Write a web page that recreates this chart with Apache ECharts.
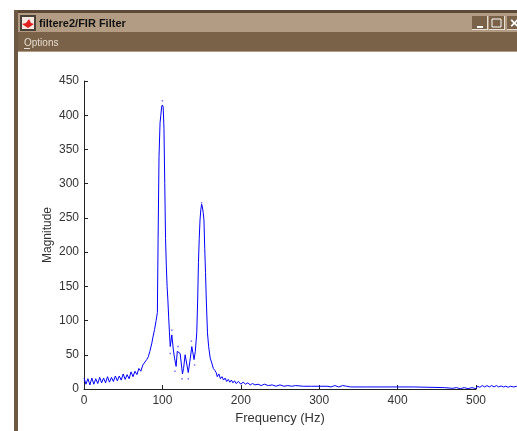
<!DOCTYPE html>
<html><head><meta charset="utf-8">
<style>html,body{margin:0;padding:0;background:#fff}#c{width:517px;height:431px}</style>
<script src="https://cdn.jsdelivr.net/npm/echarts@6/dist/echarts.min.js"></script>
</head><body><div id="c"></div>
<script>
const xTicks=[0,100,200,300,400,500];
const lowBand=[[0,16],[2.5,7],[5,15],[7.5,6],[10,16],[12.5,7],[15,15],[17.5,8],[20,17],[22.5,9],[25,16],[27.5,9],[30,18],[32.5,10],[35,17],[37.5,11],[40,19],[42.5,12],[45,19],[47.5,13],[50,22],[52.5,14],[55,21],[57.5,15],[60,25],[62.5,18],[65,26],[67.5,21],[70,30],[72.5,26],[75,35],[77.5,33],[80,43],[82,47],[84,55],[86.5,67],[88,76],[90,87],[92,100]];
const firstPeak=[[93.6,112],[94.5,218],[95.7,340],[97,389],[98,400],[99,412],[100,415],[101,412],[102,381],[103,300],[104,220],[105,180],[106,150],[107,130],[108,105],[109,82]];
const midBand=[[110,62],[112,79],[114,57],[115.5,45],[117.5,33],[119,55],[120.5,55],[122.6,52],[125.6,22],[127,30],[129,50],[131,52],[133,24],[135,40],[137.5,62],[139,60],[140.4,43],[142,55],[143.8,82]];
const secondPeak=[[145,130],[146,185],[147,220],[148,247],[149,262],[150,270],[151,266],[152,258],[153,247],[154,205],[155,170],[156,130],[157.5,82],[159,62]];
const upperBand=[[161,45],[163,38],[165,30],[167,27],[168.6,24],[170,18],[172,22],[174,15],[176,18],[178,13],[180,16],[182,11],[184,14],[186,10],[188,13],[190,9],[192,12],[194,8],[197,11],[200,7],[203,10],[206,7],[209,9],[212,6],[215,8],[218,6],[222,7],[226,5],[230,7],[235,5],[240,6],[245,4],[250,6],[255,4],[260,5],[265,4],[270,5],[280,4],[290,4]];
const tailBand=[[300,4],[310,4],[315,3],[320,5],[325,3],[330,5],[335,4],[340,3],[360,3],[380,3],[400,3],[420,3],[440,2.5],[460,2],[470,1],[475,2],[480,0.5],[485,2],[490,0.5],[495,2],[500,0.5],[502,4],[505,2.5],[508,5],[511,3],[514,5],[517,3],[520,5],[523,3],[526,5],[529,3],[532,4.5],[535,3],[538,4],[541,2.5],[544,4],[548,3],[552,4]];
const spectrum=[...lowBand,...firstPeak,...midBand,...secondPeak,...upperBand,...tailBand];
const stray=[[100,421],[150,272],[112,86],[110,52],[120,62],[125,15],[133,15],[137,70],[141,35],[116,26]];
const brown={title:'#b29c84',menu:'#7a6249',edge:'#5b4936',side:'#6d5843'};
const font='"Liberation Sans",Arial,sans-serif';
const rect=(x,y,w,h,fill,extra)=>Object.assign({type:'rect',shape:{x,y,width:w,height:h},style:{fill},silent:true},extra||{});
const button=(x)=>({type:'group',children:[rect(x,16,15,14,'#7a6249'),rect(x,29,15,1,'#e8dfd3'),rect(x+15,16,1,14,'#e8dfd3')]});
const chart=echarts.init(document.getElementById('c'),null,{renderer:'canvas'});
chart.setOption({
 animation:false,backgroundColor:'#fff',
 grid:[{left:84,right:41,top:81,bottom:42},{left:84,right:0,top:81,bottom:42}],
 xAxis:[{type:'value',gridIndex:0,min:0,max:500,interval:100,name:'Frequency (Hz)',nameLocation:'middle',nameGap:22,
  nameTextStyle:{fontFamily:font,fontSize:13,color:'#333'},
  axisLine:{onZero:false,lineStyle:{color:'#222',width:1}},axisTick:{inside:true,length:4,lineStyle:{color:'#222'}},
  axisLabel:{formatter:v=>xTicks.includes(v)?String(v):'',fontFamily:font,fontSize:12,color:'#333',margin:6,showMaxLabel:true,showMinLabel:true,hideOverlap:false},splitLine:{show:false}},
  {type:'value',gridIndex:1,min:0,max:552.3,show:false}],
 yAxis:[{type:'value',gridIndex:0,min:0,max:450,interval:50,name:'Magnitude',nameLocation:'middle',nameGap:30,nameMoveOverlap:false,
  nameTextStyle:{fontFamily:font,fontSize:12,color:'#333'},
  axisLine:{onZero:false,lineStyle:{color:'#222',width:1}},axisTick:{inside:true,length:4,lineStyle:{color:'#222'}},
  axisLabel:{fontFamily:font,fontSize:12,color:'#333',margin:5,showMaxLabel:true,showMinLabel:true,hideOverlap:false},splitLine:{show:false}},
  {type:'value',gridIndex:1,min:0,max:450,show:false}],
 series:[
  {type:'line',xAxisIndex:1,yAxisIndex:1,data:spectrum,showSymbol:false,smooth:false,sampling:null,lineStyle:{color:'#0000ff',width:1},z:3},
  {type:'scatter',xAxisIndex:1,yAxisIndex:1,data:stray,symbol:'rect',symbolSize:1.5,itemStyle:{color:'#5050ff'},z:3}
 ],
 graphic:{elements:[
  rect(14,10,503,3,brown.edge),
  rect(14,10,4,421,brown.side),
  rect(18,13,499,19,brown.title),
  rect(18,32,499,20,brown.menu),
  rect(18,51,499,1,'#b29c84'),
  rect(20,15,16,16,'#4a4038'),
  rect(22,17,12,12,'#f4e8e0'),
  {type:'polygon',shape:{points:[[22,24],[26,23],[29,19],[31,23],[34,24],[31,26],[28,28],[25,26]]},style:{fill:'#e02020'},silent:true},
  {type:'text',x:39,y:18,style:{text:'filtere2/FIR Filter',fontFamily:font,fontSize:11,fontWeight:'bold',fill:'#111'},silent:true},
  {type:'text',x:24,y:38,style:{text:'Options',fontFamily:font,fontSize:10,fill:'#e6dccf'},silent:true},
  rect(24,48,6,1,'#e6dccf'),
  button(472),button(489),button(507),
  rect(477,26,6,2,'#fff'),
  {type:'rect',shape:{x:492,y:19,width:9,height:8},style:{fill:'none',stroke:'#fff',lineWidth:1},silent:true},
  {type:'text',x:510,y:16,style:{text:'×',fontFamily:font,fontSize:15,fontWeight:'bold',fill:'#fff'},silent:true}
 ]}
});
</script></body></html>
